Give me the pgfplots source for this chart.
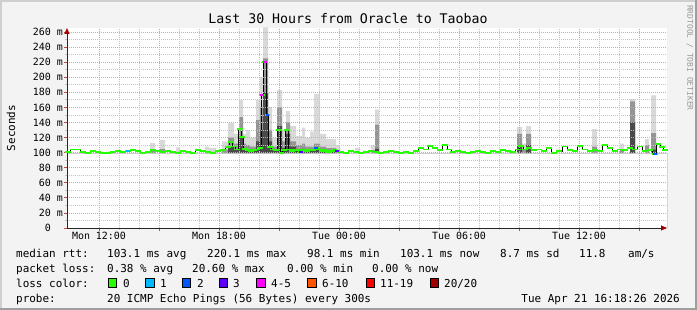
\documentclass[border=0pt]{standalone}
\usepackage{fontspec}
\setmonofont{DejaVu Sans Mono}
\usepackage{pgfplots}
\pgfplotsset{compat=1.18}
\usepackage{pgfplotstable}
\usetikzlibrary{arrows.meta}

\definecolor{bgc}{HTML}{F3F3F3}
\definecolor{shadea}{HTML}{CFCFCF}
\definecolor{shadeb}{HTML}{9E9E9E}
\definecolor{gridc}{HTML}{C4C4C4}
\definecolor{mgridc}{HTML}{E3A0A0}
\definecolor{arrowc}{HTML}{A00000}
\definecolor{smokelight}{HTML}{D9D9D9}
\definecolor{smokedark}{HTML}{959595}
\definecolor{smokecore}{HTML}{4A4A4A}
\definecolor{lzero}{HTML}{26FF00}
\definecolor{lone}{HTML}{00B8FF}
\definecolor{ltwo}{HTML}{0059FF}
\definecolor{lthree}{HTML}{5E00FF}
\definecolor{lfour}{HTML}{FF00FF}
\definecolor{lsix}{HTML}{FF5500}
\definecolor{leleven}{HTML}{FF0000}
\definecolor{ltwenty}{HTML}{A10000}

\newcommand\lf{\ttfamily\fontsize{11}{13}\selectfont}
\newcommand\af{\ttfamily\fontsize{10}{12}\selectfont}

% median round-trip time (ms), time in hours since Mon 00:00
\pgfplotstableread{
t v
10.45 101
10.7 104
10.95 104
11.2 101
11.45 100
11.7 102
11.95 101
12.2 99
12.45 100
12.7 101
12.95 102
13.2 101
13.45 102
13.7 103
13.95 102
14.2 100
14.45 101
14.7 103
14.95 102
15.2 101
15.45 102
15.7 101
15.95 100
16.2 102
16.45 101
16.7 100
16.95 103
17.2 102
17.45 101
17.7 100
17.95 102
18.2 103
18.45 107
18.6 114
18.75 108
18.9 104
19.05 131
19.15 121
19.3 105
19.45 103
19.6 102
19.75 103
19.9 104
20.05 106
20.15 176
20.3 220
20.42 150
20.55 107
20.7 104
20.85 103
21.0 130
21.12 100
21.25 103
21.4 130
21.52 104
21.65 102
21.8 104
21.95 103
22.1 101
22.25 103
22.4 102
22.55 104
22.7 103
22.85 106
23.0 104
23.15 102
23.3 103
23.45 101
23.6 102
23.75 103
23.9 102
24.1 101
24.35 100
24.6 102
24.85 101
25.1 100
25.35 101
25.6 102
25.85 101
26.1 100
26.35 101
26.6 102
26.85 101
27.1 100
27.35 101
27.6 100
27.85 102
28.1 106
28.35 104
28.55 109
28.8 106
29.05 103
29.3 110
29.5 104
29.7 101
29.95 102
30.2 101
30.45 100
30.7 101
30.95 102
31.2 101
31.45 100
31.7 102
31.95 101
32.2 103
32.45 102
32.7 101
32.95 104
33.1 109
33.3 104
33.5 106
33.75 103
34.0 104
34.25 102
34.5 106
34.75 100
35.0 102
35.3 108
35.55 103
35.8 102
36.05 109
36.3 104
36.55 102
36.8 103
37.05 102
37.3 110
37.55 106
37.8 102
38.05 104
38.3 103
38.55 106
38.8 104
39.05 108
39.3 102
39.55 103
39.8 98
39.95 111
40.15 107
40.3 103
}\median

% smoke: lower bound, core band top, dense band top, outer band top (ms)
\pgfplotstableread{
t lo core mid hi
10.4 99 99 99 99
14.55 99 99 104 113
14.8 99 99 99 99
15.05 99 99 105 117
15.3 99 99 99 99
15.85 99 99 101 107
16.05 99 99 99 99
17.3 99 99 102 108
17.5 99 99 101 106
17.85 99 99 99 99
18.15 99 99 104 115
18.45 99 108 120 139
18.75 99 104 112 125
19.0 99 120 147 170
19.2 99 106 112 125
19.35 99 104 110 130
19.55 99 104 108 120
19.85 99 115 143 170
20.05 99 130 160 200
20.2 99 180 225 266
20.45 99 115 130 160
20.65 99 104 108 120
20.9 99 135 160 183
21.15 99 106 115 130
21.35 99 125 140 155
21.55 99 108 115 135
21.85 99 104 110 122
22.15 99 105 112 133
22.3 99 104 108 120
22.55 99 104 108 128
22.75 99 104 112 178
23.05 99 103 108 125
23.35 99 102 106 118
23.85 99 99 103 110
24.05 99 99 99 99
24.8 99 99 101 106
25.05 99 99 99 99
25.6 99 99 103 110
25.8 99 105 137 157
26.0 99 99 99 99
32.9 99 110 125 134
33.15 99 99 104 112
33.35 99 110 125 135
33.6 99 99 99 99
36.65 99 99 108 131
36.9 99 99 99 99
38.05 99 99 104 112
38.25 99 99 99 99
38.55 99 140 168 171
38.8 99 99 99 99
39.3 99 99 110 118
39.5 99 99 99 99
39.6 99 104 126 176
39.85 99 99 99 99
40.4 99 99 99 99
}\smoke

\begin{document}
\begin{tikzpicture}
\useasboundingbox (0,0) rectangle (697bp,310bp);
\fill[bgc] (0,0) rectangle (697bp,310bp);
\fill[shadea] (0,0) rectangle (2bp,310bp);
\fill[shadea] (0,308bp) rectangle (697bp,310bp);
\fill[shadeb] (695bp,0) rectangle (697bp,310bp);
\fill[shadeb] (0,0) rectangle (697bp,2bp);

\begin{axis}[
  at={(67bp,82bp)}, anchor=south west,
  scale only axis, width=600bp, height=200bp,
  xmin=10.4, xmax=40.4, ymin=0, ymax=265.3,
  axis lines=left, axis on top,
  axis line style={color=black!85, line width=0.8bp},
  x axis line style={-{Triangle[length=6bp,width=5bp,color=arrowc]}},
  y axis line style={-{Triangle[length=6bp,width=5bp,color=arrowc]}},
  axis background/.style={fill=white},
  xtick={12,15,...,39},
  xticklabels={Mon 12:00,,Mon 18:00,,Tue 00:00,,Tue 06:00,,Tue 12:00,},
  minor x tick num=2,
  ytick={0,20,...,260},
  yticklabels={0\hphantom{~m},20 m,40 m,60 m,80 m,100 m,120 m,140 m,160 m,180 m,200 m,220 m,240 m,260 m},
  minor y tick num=1,
  grid=both,
  major grid style={mgridc, dash pattern=on 1bp off 1bp, line width=0.8bp},
  minor grid style={gridc, dash pattern=on 1bp off 1bp, line width=0.8bp},
  tick align=outside,
  major tick length=3bp, minor tick length=2bp,
  major tick style={color=arrowc!70, line width=0.8bp},
  minor tick style={color=gridc, line width=0.8bp},
  xticklabel style={font=\af, inner sep=1bp},
  yticklabel style={font=\af, inner sep=1bp, anchor=east},
]
\addplot[const plot, fill=smokelight, draw=none, forget plot] table[x=t,y=hi]{\smoke} \closedcycle;
\addplot[const plot, fill=smokedark, draw=none, forget plot] table[x=t,y=mid]{\smoke} \closedcycle;
\addplot[const plot, fill=smokecore, draw=none, forget plot] table[x=t,y=core]{\smoke} \closedcycle;
\addplot[const plot, fill=white, draw=none, forget plot] table[x=t,y=lo]{\smoke} \closedcycle;

\addplot[const plot mark mid, black, line width=0.8bp, forget plot] table[x=t,y=v]{\median};
\addplot[only marks, mark=-, mark size=2.6bp, mark options={line width=1.8bp, color=lzero}, forget plot] table[x=t,y=v]{\median};

\addplot[only marks, mark=-, mark size=1.6bp, mark options={line width=1.8bp, color=lone}, forget plot] coordinates {(13.45,102)};
\addplot[only marks, mark=-, mark size=1.6bp, mark options={line width=1.8bp, color=ltwo}, forget plot] coordinates {(20.42,150) (22.85,106) (39.8,98)};
\addplot[only marks, mark=-, mark size=1.6bp, mark options={line width=1.8bp, color=lthree}, forget plot] coordinates {(22.1,101) (23.9,102)};
\addplot[only marks, mark=-, mark size=1.6bp, mark options={line width=1.8bp, color=lfour}, forget plot] coordinates {(20.15,176) (20.3,220)};
\end{axis}

\node[anchor=center] at (348bp,291bp) {\ttfamily\fontsize{13.3}{15}\selectfont Last 30 Hours from Oracle to Taobao};
\node[rotate=90, anchor=center] at (11bp,182bp) {\ttfamily\fontsize{11}{13}\selectfont Seconds};
\node[rotate=-90, anchor=west, text=black!40, inner sep=0] at (690bp,305bp) {\ttfamily\fontsize{8}{9}\selectfont RRDTOOL / TOBI OETIKER};

% legend block
\begin{scope}[every node/.style={anchor=base west, inner sep=0}]
\node at (16bp,52bp) {\lf median rtt:};
\node at (107bp,52bp) {\lf 103.1 ms avg};
\node at (207bp,52bp) {\lf 220.1 ms max};
\node at (307bp,52bp) {\lf 98.1 ms min};
\node at (400bp,52bp) {\lf 103.1 ms now};
\node at (500bp,52bp) {\lf 8.7 ms sd};
\node at (579bp,52bp) {\lf 11.8};
\node at (628bp,52bp) {\lf am/s};

\node at (16bp,38bp) {\lf packet loss:};
\node at (107bp,38bp) {\lf 0.38 \% avg};
\node at (192bp,38bp) {\lf 20.60 \% max};
\node at (287bp,38bp) {\lf 0.00 \% min};
\node at (372bp,38bp) {\lf 0.00 \% now};

\node at (16bp,23bp) {\lf loss color:};
\node at (123bp,23bp) {\lf 0};
\node at (160bp,23bp) {\lf 1};
\node at (197bp,23bp) {\lf 2};
\node at (233bp,23bp) {\lf 3};
\node at (271bp,23bp) {\lf 4-5};
\node at (322bp,23bp) {\lf 6-10};
\node at (380bp,23bp) {\lf 11-19};
\node at (444bp,23bp) {\lf 20/20};

\node at (16bp,8bp) {\lf probe:};
\node at (107bp,8bp) {\lf 20 ICMP Echo Pings (56 Bytes) every 300s};
\node[anchor=base east] at (680bp,8bp) {\lf Tue Apr 21 16:18:26 2026};
\end{scope}
\foreach \x/\c in {108/lzero,145.3/lone,182/ltwo,219/lthree,256.4/lfour,307.5/lsix,365.8/leleven,429.8/ltwenty}{
  \filldraw[fill=\c, draw=black, line width=0.6bp] (\x bp,22.5bp) rectangle ++(8.5bp,9bp);
}
\end{tikzpicture}
\end{document}
